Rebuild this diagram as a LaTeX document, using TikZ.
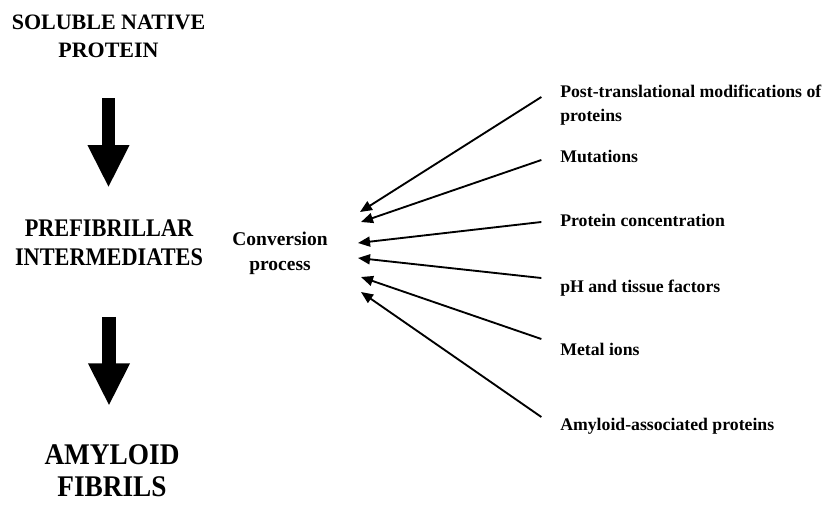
\documentclass[tikz,border=0pt]{standalone}
\usepackage{fontspec}
\setmainfont{Liberation Serif}
\newfontfamily\narrowfont[FakeStretch=0.88]{Liberation Serif}
\newfontfamily\midfont[FakeStretch=0.91]{Liberation Serif}
\usetikzlibrary{arrows.meta, calc, positioning}
\tikzset{
  stage/.style    = {align=center, inner sep=0pt},
  factor/.style   = {anchor=base west, inner sep=0pt,
                     font=\fontsize{13.3pt}{17.5pt}\selectfont\bfseries},
  bigarrow/.style = {-{Triangle[length=32pt, width=29pt]}, line width=10pt},
  push/.style     = {-{Triangle[length=9pt, width=7.5pt]}, line width=1.4pt},
}

\begin{document}
\begin{tikzpicture}[x=0.75pt, y=-0.75pt]
  \useasboundingbox (0,0) rectangle (823,510);

  %% ---------------- the three stages ----------------
  \node[stage, font=\fontsize{16.5pt}{21pt}\selectfont\bfseries]
       (native) at (108.5,36.5) {SOLUBLE NATIVE\\PROTEIN};
  \node[stage, font=\narrowfont\fontsize{19pt}{21.75pt}\selectfont\bfseries]
       (prefib) at (109,243) {PREFIBRILLAR\\INTERMEDIATES};
  \node[stage, font=\midfont\fontsize{22.5pt}{24pt}\selectfont\bfseries]
       (fibril) at (112,471) {AMYLOID\\FIBRILS};

  \draw[bigarrow] ([yshift=-30pt]native.south) -- ([yshift=24pt]native.south |- prefib.north);
  \draw[bigarrow] ([yshift=-38pt]prefib.south) -- ([yshift=29pt]prefib.south |- fibril.north);

  %% ---------------- conversion ----------------
  \node[stage, font=\fontsize{14.6pt}{18.75pt}\selectfont\bfseries]
       (conv) at (280,253) {Conversion\\process};

  \coordinate (tipptm)   at (360,212);
  \coordinate (tipmut)   at (361,222);
  \coordinate (tipconc)  at (358,243);
  \coordinate (tipph)    at (358,258);
  \coordinate (tipmetal) at (361,277);
  \coordinate (tipassoc) at (361,292);

  %% ---------------- factors ----------------
  \node[factor, anchor=north west, align=left] (ptm) at (560,85)
       {Post-translational modifications of\\proteins};
  \foreach \n/\y/\txt in {mut/162/Mutations,
                          conc/226/Protein concentration,
                          ph/292/pH and tissue factors,
                          metal/355/Metal ions,
                          assoc/430/Amyloid-associated proteins}
    \node[factor] (\n) at (560,\y) {\txt};

  \draw[push] ([xshift=-14pt, yshift=-9pt]ptm.north west) -- (tipptm);
  \foreach \n/\dy in {mut/1.5pt, conc/3pt, ph/10.5pt, metal/12pt, assoc/9.75pt}
    \draw[push] ([xshift=-14pt, yshift=\dy]\n.base west) -- (tip\n);

\end{tikzpicture}
\end{document}
